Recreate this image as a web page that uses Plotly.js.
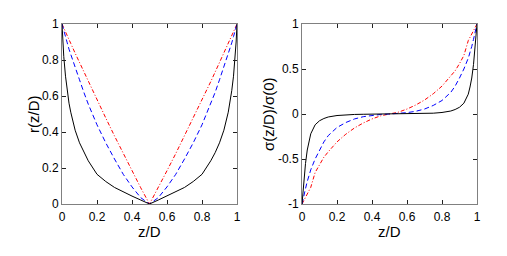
<!DOCTYPE html>
<html>
<head>
<meta charset="utf-8">
<script src="https://cdn.plot.ly/plotly-3.0.1.min.js"></script>
<style>html,body{margin:0;padding:0;background:#fff;}#chart{width:507px;height:256px;}</style>
</head>
<body>
<div id="chart"></div>
<script>
// shared z/D sample points
const zGrid = [0,0.005,0.01,0.02,0.03,0.04,0.05,0.075,0.1,0.125,0.15,0.2,0.25,0.3,0.35,0.4,0.45,0.5,
               0.55,0.6,0.65,0.7,0.75,0.8,0.85,0.875,0.9,0.925,0.95,0.96,0.97,0.98,0.99,0.995,1];

// left panel: r(z/D)
const rBlack = [1,0.9,0.82,0.71,0.63,0.56,0.51,0.41,0.34,0.285,0.24,0.165,0.125,0.092,0.066,0.044,0.022,0,
                0.022,0.044,0.066,0.092,0.125,0.165,0.24,0.285,0.34,0.41,0.51,0.56,0.63,0.71,0.82,0.9,1];
const rBlue  = [1,0.98,0.965,0.93,0.895,0.86,0.83,0.76,0.69,0.62,0.555,0.44,0.34,0.25,0.165,0.095,0.035,0,
                0.035,0.095,0.165,0.25,0.34,0.44,0.555,0.62,0.69,0.76,0.83,0.86,0.895,0.93,0.965,0.98,1];
const rRed   = [1,0.99,0.98,0.96,0.935,0.915,0.892,0.838,0.786,0.733,0.68,0.58,0.478,0.378,0.28,0.185,0.09,0,
                0.09,0.185,0.28,0.378,0.478,0.58,0.68,0.733,0.786,0.838,0.892,0.915,0.935,0.96,0.98,0.99,1];

// right panel: sigma(z/D)/sigma(0)
const sBlack = [-1,-0.87,-0.76,-0.55,-0.4,-0.3,-0.22,-0.12,-0.075,-0.05,-0.033,-0.017,-0.009,-0.005,-0.003,-0.002,-0.001,0,
                0.001,0.002,0.003,0.005,0.009,0.017,0.033,0.05,0.075,0.12,0.22,0.3,0.4,0.55,0.76,0.87,1];
const sBlue  = [-1,-0.95,-0.9,-0.83,-0.75,-0.68,-0.62,-0.5,-0.4,-0.31,-0.24,-0.15,-0.095,-0.055,-0.03,-0.015,-0.005,0,
                0.005,0.015,0.03,0.055,0.095,0.15,0.24,0.31,0.4,0.5,0.62,0.68,0.75,0.83,0.9,0.95,1];
const sRed   = [-1,-0.98,-0.96,-0.925,-0.89,-0.85,-0.815,-0.65,-0.56,-0.48,-0.42,-0.31,-0.225,-0.155,-0.1,-0.055,-0.02,0,
                0.02,0.055,0.1,0.155,0.225,0.31,0.42,0.48,0.56,0.65,0.815,0.85,0.89,0.925,0.96,0.98,1];

const xTickVals = [0,0.2,0.4,0.6,0.8,1];
const xTickText = ['0','0.2','0.4','0.6','0.8','1'];
const rTickVals = [0,0.2,0.4,0.6,0.8,1];
const rTickText = ['0','0.2','0.4','0.6','0.8','1'];
const sTickVals = [-1,-0.5,0,0.5,1];
const sTickText = ['-1','-0.5','0','0.5','1'];

const xTitle = 'z/D';
const rTitle = 'r(z/D)';
const sTitle = 'σ(z/D)/σ(0)';

const blackLine = {color:'#000000', width:1, dash:'solid'};
const blueLine  = {color:'#0000ff', width:1, dash:'5px,3px'};
const redLine   = {color:'#ff0000', width:1, dash:'4px,2px,1px,2px'};

const traces = [
  {x:zGrid, y:rRed,   mode:'lines', line:redLine,   xaxis:'x',  yaxis:'y'},
  {x:zGrid, y:rBlue,  mode:'lines', line:blueLine,  xaxis:'x',  yaxis:'y'},
  {x:zGrid, y:rBlack, mode:'lines', line:blackLine, xaxis:'x',  yaxis:'y'},
  {x:zGrid, y:sRed,   mode:'lines', line:redLine,   xaxis:'x2', yaxis:'y2'},
  {x:zGrid, y:sBlue,  mode:'lines', line:blueLine,  xaxis:'x2', yaxis:'y2'},
  {x:zGrid, y:sBlack, mode:'lines', line:blackLine, xaxis:'x2', yaxis:'y2'}
];

const W = 507, PH = 180;
const fam = '"Liberation Sans", Arial, sans-serif';
const titleFont = {family:fam, size:15, color:'#000'};
function axisBase(extra){
  return Object.assign({
    showline:true, mirror:'ticks', linecolor:'#808080', linewidth:1,
    ticks:'inside', ticklen:4, tickcolor:'#202020', tickwidth:1,
    showgrid:false, zeroline:false, fixedrange:true,
    tickfont:{family:fam, size:12, color:'#000'},
    tickmode:'array'
  }, extra);
}
function ann(text, xpx, ypx, angle){
  return {text:text, xref:'paper', yref:'paper', x:xpx/W, y:(204-ypx)/PH,
          xanchor:'center', yanchor:'middle', showarrow:false, textangle:angle, font:titleFont};
}

const layout = {
  width:507, height:256,
  margin:{l:0, r:0, t:24, b:52},
  paper_bgcolor:'#fff', plot_bgcolor:'#fff',
  showlegend:false,
  font:{family:fam, size:12, color:'#000'},
  xaxis: axisBase({domain:[62/W, 237/W], range:[0,1], anchor:'y', tickvals:xTickVals, ticktext:xTickText, ticklabelstandoff:2}),
  yaxis: axisBase({domain:[0,1], range:[0,1], anchor:'x', tickvals:rTickVals, ticktext:rTickText}),
  xaxis2: axisBase({domain:[302/W, 477/W], range:[0,1], anchor:'y2', tickvals:xTickVals, ticktext:xTickText, ticklabelstandoff:2}),
  yaxis2: axisBase({domain:[0,1], range:[-1,1], anchor:'x2', tickvals:sTickVals, ticktext:sTickText}),
  annotations:[
    ann(xTitle, 149.5, 232, 0),
    ann(xTitle, 389.5, 232, 0),
    ann(rTitle, 33, 114, -90),
    ann(sTitle, 268, 114, -90)
  ]
};

Plotly.newPlot('chart', traces, layout, {staticPlot:true, displayModeBar:false});
</script>
</body>
</html>
